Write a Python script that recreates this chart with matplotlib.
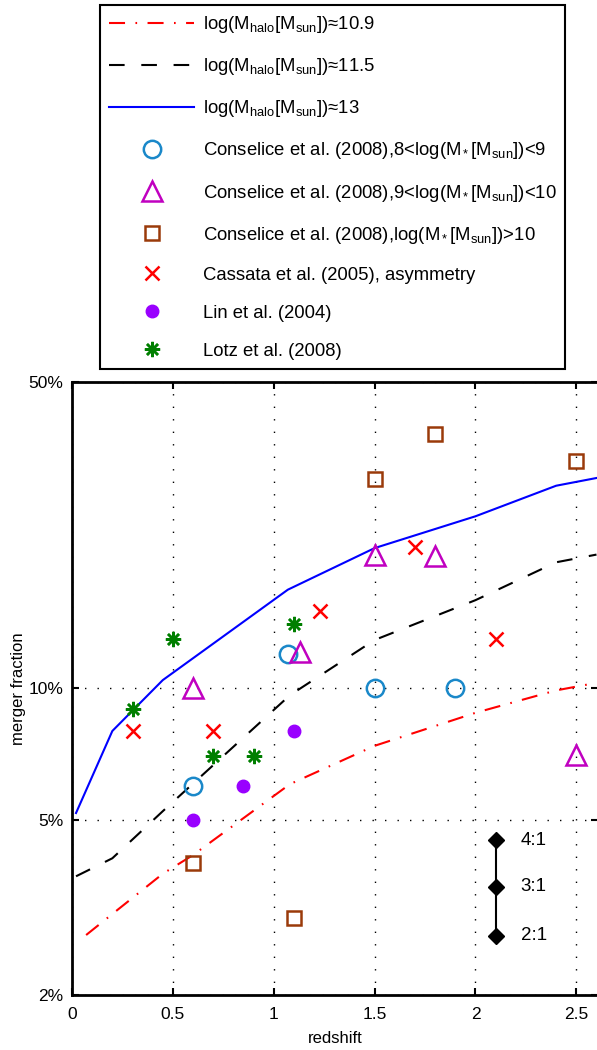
import matplotlib
matplotlib.use('Agg')
import matplotlib.pyplot as plt
import numpy as np

plt.rcParams['font.family'] = ['Liberation Sans', 'DejaVu Sans']
plt.rcParams['mathtext.fontset'] = 'custom'
plt.rcParams['mathtext.rm'] = 'Liberation Sans'
plt.rcParams['mathtext.it'] = 'Liberation Sans'
plt.rcParams['mathtext.bf'] = 'Liberation Sans'

# model curves (merger fraction in %)
z_low = [0.07, 0.2, 0.45, 0.6, 1.08, 1.5, 2.0, 2.4, 2.6]
f_low = [2.74, 3.06, 3.78, 4.17, 6.05, 7.4, 8.8, 9.9, 10.3]
z_mid = [0.02, 0.2, 0.45, 1.08, 1.5, 2.0, 2.4, 2.6]
f_mid = [3.73, 4.1, 5.25, 9.65, 12.9, 15.9, 19.4, 20.2]
z_high = [0.02, 0.2, 0.45, 1.07, 1.5, 2.0, 2.4, 2.6]
f_high = [5.2, 8.0, 10.45, 16.8, 20.9, 24.7, 29.0, 30.2]

# observations
con1_z = [0.6, 1.07, 1.5, 1.9]
con1_f = [6.0, 12.0, 10.0, 10.0]
con2_z = [0.6, 1.13, 1.5, 1.8, 2.5]
con2_f = [10.0, 12.1, 20.2, 20.0, 7.05]
con3_z = [0.6, 1.1, 1.5, 1.8, 2.5]
con3_f = [4.0, 3.0, 30.0, 38.0, 33.0]
cas_z = [0.3, 0.7, 1.23, 1.7, 2.1]
cas_f = [8.0, 8.0, 15.0, 21.0, 13.0]
lin_z = [0.6, 0.85, 1.1]
lin_f = [5.0, 6.0, 8.0]
lotz_z = [0.3, 0.5, 0.7, 0.9, 1.1]
lotz_f = [9.0, 13.0, 7.0, 7.0, 14.0]

# mass ratio scale
ratio_z = [2.1, 2.1, 2.1]
ratio_f = [4.51, 3.53, 2.73]
ratio_labels = ['4:1', '3:1', '2:1']

fig = plt.figure(figsize=(5.97, 10.5), dpi=100)
ax = fig.add_axes([0.1206, 0.0524, 0.8819, 0.5838])

h1, = ax.plot(z_low, f_low, color='r', lw=1.5, ls=(0, (7.7, 5, 0.8, 5)),
              label=r'log(M$_{\rm halo}$[M$_{\rm sun}$])≈10.9')
h2, = ax.plot(z_mid, f_mid, color='k', lw=1.5, ls=(0, (7.5, 8)),
              label=r'log(M$_{\rm halo}$[M$_{\rm sun}$])≈11.5')
h3, = ax.plot(z_high, f_high, color='b', lw=1.5, ls='-',
              label=r'log(M$_{\rm halo}$[M$_{\rm sun}$])≈13')

h4, = ax.plot(con1_z, con1_f, 'o', ms=12.5, mfc='none', mec='#1A88C9', mew=1.8,
              label=r'Conselice et al. (2008),8<log(M$_*$[M$_{\rm sun}$])<9')
h5, = ax.plot(con2_z, con2_f, '^', ms=14, mfc='none', mec='#C000C0', mew=1.8,
              label=r'Conselice et al. (2008),9<log(M$_*$[M$_{\rm sun}$])<10')
h6, = ax.plot(con3_z, con3_f, 's', ms=10.5, mfc='none', mec='#9A3A0A', mew=1.8,
              label=r'Conselice et al. (2008),log(M$_*$[M$_{\rm sun}$])>10')
h7, = ax.plot(cas_z, cas_f, 'x', ms=9.5, mec='r', mew=1.8,
              label='Cassata et al. (2005), asymmetry')
h8, = ax.plot(lin_z, lin_f, 'o', ms=9, mfc='#9900FF', mec='#9900FF',
              label='Lin et al. (2004)')
h9, = ax.plot(lotz_z, lotz_f, marker=(8, 2, 0), ls='none', ms=11, mec='#007F00', mew=1.8,
              label='Lotz et al. (2008)')

ax.plot(ratio_z, ratio_f, 'k-D', lw=1.5, ms=8, mfc='k', mec='k')
for zz, ff, lab in zip(ratio_z, ratio_f, ratio_labels):
    ax.text(zz + 0.125, ff, lab, fontsize=13.5, va='center', ha='left')

ax.set_yscale('log')
ax.set_xlim(0, 2.61)
ax.set_ylim(2, 50)
ax.set_xticks([0, 0.5, 1, 1.5, 2, 2.5])
ax.set_xticklabels(['0', '0.5', '1', '1.5', '2', '2.5'])
ax.set_yticks([2, 5, 10, 50])
ax.set_yticklabels(['2%', '5%', '10%', '50%'])
ax.yaxis.set_minor_locator(matplotlib.ticker.NullLocator())
ax.tick_params(direction='in', top=True, right=True, length=5, width=1.5,
               labelsize=12.5)
ax.tick_params(axis='x', pad=9)
ax.tick_params(axis='y', pad=6)
ax.grid(True, color='k', ls=(0, (1, 8)), lw=1)
for s in ax.spines.values():
    s.set_linewidth(2)
ax.set_xlabel('redshift', fontsize=12, labelpad=6)
ax.set_ylabel('merger fraction', fontsize=12, labelpad=2)

leg = fig.legend(handles=[h1, h2, h3, h4, h5, h6, h7, h8, h9],
                 loc='upper left', bbox_to_anchor=(0.1675, 0.9952),
                 borderaxespad=0, fontsize=13.3, handlelength=4.6,
                 handletextpad=0.45, borderpad=0.5, labelspacing=1.14,
                 fancybox=False, edgecolor='k', framealpha=1)
leg.get_frame().set_linewidth(1.5)

fig.savefig('out.png', dpi=100)
